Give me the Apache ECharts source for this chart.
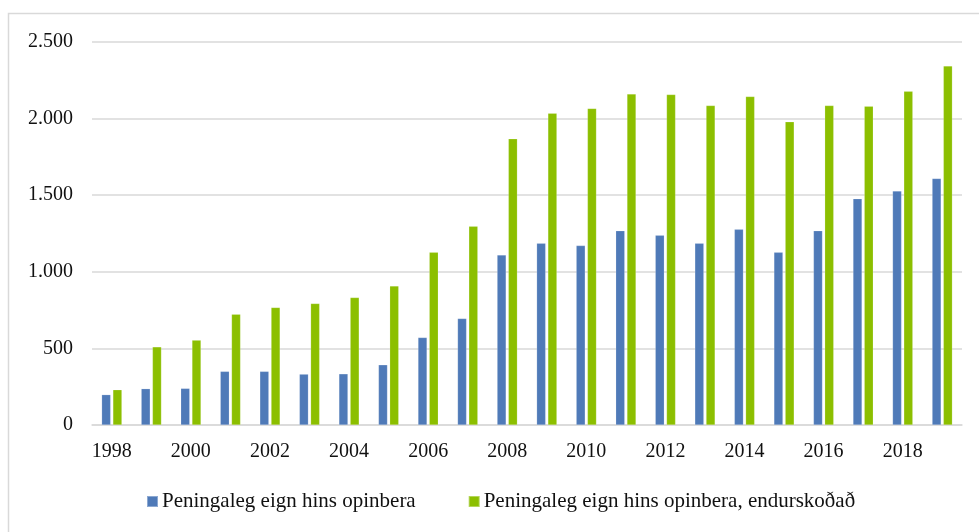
<!DOCTYPE html>
<html>
<head>
<meta charset="utf-8">
<script src="https://cdn.jsdelivr.net/npm/echarts@6/dist/echarts.min.js"></script>
<style>
  html, body { margin: 0; padding: 0; background: #fff; }
  #chart { width: 979px; height: 532px; }
</style>
</head>
<body>
<div id="chart"></div>
<script>
var years = ['1998','1999','2000','2001','2002','2003','2004','2005','2006','2007','2008',
             '2009','2010','2011','2012','2013','2014','2015','2016','2017','2018','2019'];
// Peningaleg eign hins opinbera
var eign = [198, 237, 239, 350, 350, 332, 334, 393, 571, 695, 1110,
            1186, 1171, 1268, 1238, 1186, 1277, 1127, 1268, 1477, 1527, 1609];
// Peningaleg eign hins opinbera, endurskoðað
var eignEndursk = [230, 510, 554, 723, 767, 793, 832, 908, 1127, 1297, 1868,
                   2035, 2066, 2161, 2157, 2085, 2144, 1979, 2085, 2081, 2178, 2344];
var seriesNames = ['Peningaleg eign hins opinbera', 'Peningaleg eign hins opinbera, endurskoðað'];

var font = '"Liberation Serif", "Times New Roman", serif';
var chart = echarts.init(document.getElementById('chart'));

chart.setOption({
    animation: false,
    color: ['#4f7ab8', '#8cbf00'],
    textStyle: { fontFamily: font, color: '#111' },
    graphic: [{
        type: 'rect',
        shape: { x: 8.5, y: 13.5, width: 1000, height: 600 },
        style: { fill: 'none', stroke: '#d9d9d9', lineWidth: 1.5 },
        silent: true
    }],
    grid: { left: 92, right: 17, top: 42, bottom: 107 },
    legend: {
        left: 141,
        top: 486,
        itemWidth: 11,
        itemHeight: 11,
        itemGap: 52,
        icon: 'rect',
        textStyle: { fontFamily: font, fontSize: 21, color: '#111', padding: [0, 0, 0, -1] },
        data: seriesNames
    },
    xAxis: {
        type: 'category',
        data: years,
        axisLine: { lineStyle: { color: '#d9d9d9', width: 1.5 } },
        axisTick: { show: false },
        axisLabel: { interval: 1, fontFamily: font, fontSize: 20, color: '#111', margin: 17 }
    },
    yAxis: {
        type: 'value',
        min: 0,
        max: 2500,
        interval: 500,
        axisLine: { show: false },
        axisTick: { show: false },
        splitLine: { lineStyle: { color: '#d9d9d9', width: 1.5 } },
        axisLabel: {
            fontFamily: font, fontSize: 20, color: '#111', margin: 19,
            formatter: function (v) {
                return String(v).replace(/\B(?=(\d{3})+(?!\d))/g, '.');
            }
        }
    },
    series: [
        {
            name: seriesNames[0],
            type: 'bar',
            barWidth: 9,
            barGap: '25%',
            itemStyle: { borderColor: 'rgba(255,255,255,0.35)', borderWidth: 0.5 },
            data: eign
        },
        {
            name: seriesNames[1],
            type: 'bar',
            barWidth: 9,
            barGap: '25%',
            itemStyle: { borderColor: 'rgba(255,255,255,0.35)', borderWidth: 0.5 },
            data: eignEndursk
        }
    ]
});
</script>
</body>
</html>
